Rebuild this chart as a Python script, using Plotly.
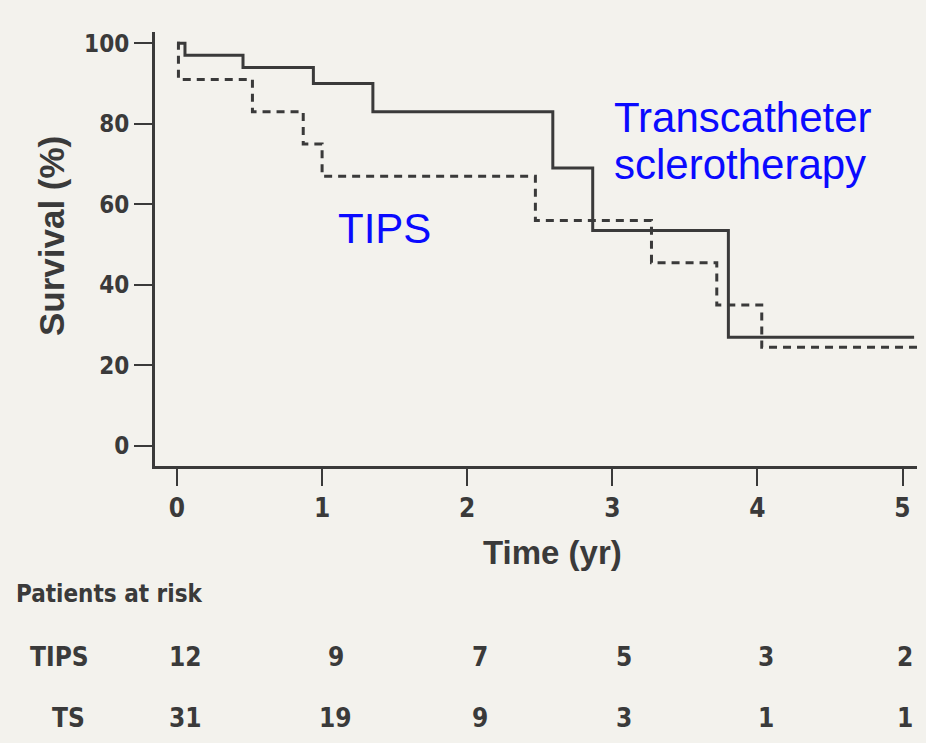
import plotly.graph_objects as go

# ---- data ----
ts_time = [0, 0.055, 0.455, 0.94, 1.35, 2.59, 2.865, 3.80, 5.08]
ts_surv = [100, 97, 94, 90, 83, 69, 53.5, 27, 27]

tips_time = [0, 0.01, 0.52, 0.87, 1.0, 2.47, 3.27, 3.72, 4.03, 5.2]
tips_surv = [100, 91, 83, 75, 67, 56, 45.5, 35, 24.5, 24.5]

x_ticks = [0, 1, 2, 3, 4, 5]
y_ticks = [0, 20, 40, 60, 80, 100]

risk_tips = [12, 9, 7, 5, 3, 2]
risk_ts = [31, 19, 9, 3, 1, 1]

# ---- layout geometry ----
W, H = 926, 743
L, R, T, B = 155, 8.5, 32, 277
pw = W - L - R
ph = H - T - B

def px_x(p):
    return (p - L) / pw

def px_y(p):
    return (H - B - p) / ph

bg = "#f3f2ed"
ink = "#3a3a3a"
blue = "#0a0aff"
narrow = "DejaVu Sans Condensed, Liberation Sans Narrow, Liberation Sans, Arial"
sans = "Liberation Sans, Arial"

fig = go.Figure()
fig.add_trace(go.Scatter(x=ts_time, y=ts_surv, mode="lines", line_shape="hv",
                         line=dict(color=ink, width=3), name="TS"))
fig.add_trace(go.Scatter(x=tips_time, y=tips_surv, mode="lines", line_shape="hv",
                         line=dict(color=ink, width=3, dash="8px,6px"), name="TIPS"))

ann = []
ann.append(dict(x=1.43, y=54, xref="x", yref="y", text="TIPS", showarrow=False,
                font=dict(family=sans, size=42, color=blue),
                xanchor="center", yanchor="middle"))
ann.append(dict(x=3.0, y=81.5, xref="x", yref="y", text="Transcatheter", showarrow=False,
                font=dict(family=sans, size=42, color=blue),
                xanchor="left", yanchor="middle"))
ann.append(dict(x=3.0, y=70, xref="x", yref="y", text="sclerotherapy", showarrow=False,
                font=dict(family=sans, size=42, color=blue),
                xanchor="left", yanchor="middle"))

# axis titles
ann.append(dict(x=px_x(553), y=px_y(552), xref="paper", yref="paper",
                text="<b>Time (yr)</b>", showarrow=False,
                font=dict(family=sans, size=33, color=ink),
                xanchor="center", yanchor="middle"))
ann.append(dict(x=px_x(52), y=px_y(236), xref="paper", yref="paper",
                text="<b>Survival (%)</b>", showarrow=False, textangle=-90,
                font=dict(family=sans, size=35, color=ink),
                xanchor="center", yanchor="middle"))

tfont = dict(family=narrow, size=26, color=ink)
ann.append(dict(x=px_x(14), y=px_y(594), xref="paper", yref="paper",
                text="<b>Patients at risk</b>", showarrow=False,
                font=dict(family=narrow, size=24, color=ink),
                xanchor="left", yanchor="middle"))
ann.append(dict(x=px_x(59), y=px_y(657), xref="paper", yref="paper",
                text="<b>TIPS</b>", showarrow=False, font=tfont,
                xanchor="center", yanchor="middle"))
ann.append(dict(x=px_x(68), y=px_y(718), xref="paper", yref="paper",
                text="<b>TS</b>", showarrow=False, font=tfont,
                xanchor="center", yanchor="middle"))
col_px = [186, 336, 480, 624, 766, 905]
for cx, a, b in zip(col_px, risk_tips, risk_ts):
    ann.append(dict(x=px_x(cx), y=px_y(657), xref="paper", yref="paper",
                    text=f"<b>{a}</b>", showarrow=False, font=tfont,
                    xanchor="center", yanchor="middle"))
    ann.append(dict(x=px_x(cx), y=px_y(718), xref="paper", yref="paper",
                    text=f"<b>{b}</b>", showarrow=False, font=tfont,
                    xanchor="center", yanchor="middle"))

fig.update_layout(
    width=W, height=H,
    margin=dict(l=L, r=R, t=T, b=B),
    paper_bgcolor=bg, plot_bgcolor=bg,
    showlegend=False,
    annotations=ann,
    xaxis=dict(range=[-22 / 145.2, (W - R - 177) / 145.2], tickvals=x_ticks,
               ticktext=[f"<b>{v}</b>" for v in x_ticks],
               showline=True, linecolor=ink, linewidth=3, showgrid=False, zeroline=False,
               ticks="outside", ticklen=17, tickwidth=2, tickcolor=ink,
               tickfont=dict(family=narrow, size=26, color=ink)),
    yaxis=dict(range=[-5.0, 102.8], tickvals=y_ticks,
               ticktext=[f"<b>{v}</b>" for v in y_ticks],
               showline=True, linecolor=ink, linewidth=3, showgrid=False, zeroline=False,
               ticks="outside", ticklen=18, tickwidth=2, tickcolor=ink,
               tickfont=dict(family=narrow, size=24, color=ink)),
)

fig.write_html("out.html", config={"displayModeBar": False},
               post_script="document.body.style.margin='0px';document.body.style.overflow='hidden';")
